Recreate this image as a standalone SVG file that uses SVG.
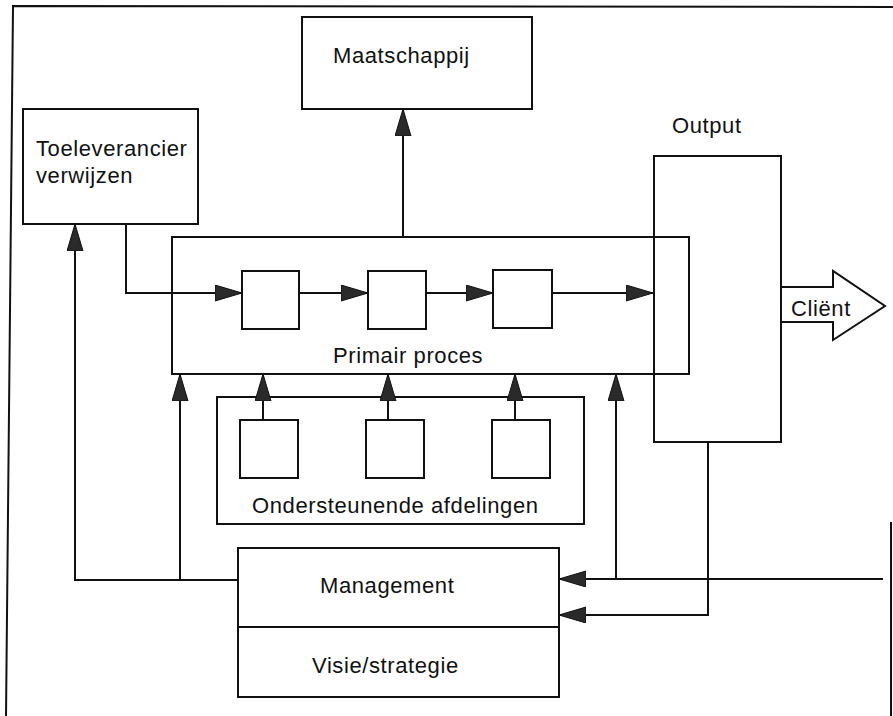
<svg xmlns="http://www.w3.org/2000/svg" width="893" height="716" viewBox="0 0 893 716">
<style>
.box{fill:none;stroke:#111;stroke-width:2}
.ln{fill:none;stroke:#111;stroke-width:2}
.t{font-family:"Liberation Sans",Arial,sans-serif;font-size:22px;letter-spacing:0.6px;fill:#111}
</style>
<defs>
<marker id="ah" markerUnits="userSpaceOnUse" markerWidth="28" markerHeight="18" refX="27" refY="8" orient="auto">
<path d="M0,0 L27,8 L0,16 Z" fill="#2a2a2a" stroke="#111" stroke-width="1"/>
</marker>
</defs>
<rect width="893" height="716" fill="#fff"/>
<g id="frame">
<path class="ln" d="M6,716 L13,6 L893,7"/>
<line class="ln" x1="891" y1="522" x2="891" y2="716"/>
</g>
<g id="maatschappij">
<rect class="box" x="302" y="17" width="230" height="92"/>
<text class="t" x="333" y="63">Maatschappij</text>
</g>
<g id="toeleverancier">
<rect class="box" x="23" y="109" width="175" height="115"/>
<text class="t" x="36" y="156">Toeleverancier</text>
<text class="t" x="36" y="183">verwijzen</text>
</g>
<g id="primair">
<rect class="box" x="172" y="237" width="517" height="137"/>
<text class="t" x="333" y="363">Primair proces</text>
</g>
<g id="p1"><rect class="box" x="242" y="271" width="57" height="58"/></g>
<g id="p2"><rect class="box" x="368" y="271" width="58" height="58"/></g>
<g id="p3"><rect class="box" x="493" y="270" width="59" height="58"/></g>
<g id="output">
<rect class="box" x="654" y="156" width="127" height="286"/>
<text class="t" x="672" y="133">Output</text>
</g>
<g id="client">
<path class="box" d="M781,287 L833,287 L833,271 L885,306 L833,340 L833,322 L781,322"/>
<text class="t" x="791" y="316">Cliënt</text>
</g>
<g id="ondersteunend">
<rect class="box" x="217" y="397" width="367" height="127"/>
<text class="t" x="252" y="513">Ondersteunende afdelingen</text>
</g>
<g id="o1"><rect class="box" x="240" y="420" width="58" height="58"/></g>
<g id="o2"><rect class="box" x="366" y="420" width="58" height="58"/></g>
<g id="o3"><rect class="box" x="492" y="420" width="58" height="58"/></g>
<g id="management">
<rect class="box" x="238" y="548" width="321" height="149"/>
<line class="ln" x1="238" y1="627" x2="559" y2="627"/>
<text class="t" x="320" y="593">Management</text>
<text class="t" x="312" y="673">Visie/strategie</text>
</g>
<g id="connectors">
<line class="ln" x1="403" y1="237" x2="403" y2="109" marker-end="url(#ah)"/>
<path class="ln" d="M126,224 L126,293 L242,293" marker-end="url(#ah)"/>
<line class="ln" x1="299" y1="293" x2="368" y2="293" marker-end="url(#ah)"/>
<line class="ln" x1="426" y1="293" x2="493" y2="293" marker-end="url(#ah)"/>
<line class="ln" x1="552" y1="293" x2="653" y2="293" marker-end="url(#ah)"/>
<line class="ln" x1="263" y1="420" x2="263" y2="374" marker-end="url(#ah)"/>
<line class="ln" x1="388" y1="420" x2="388" y2="374" marker-end="url(#ah)"/>
<line class="ln" x1="515" y1="420" x2="515" y2="374" marker-end="url(#ah)"/>
<path class="ln" d="M238,580 L75,580 L75,224" marker-end="url(#ah)"/>
<line class="ln" x1="180" y1="580" x2="180" y2="374" marker-end="url(#ah)"/>
<line class="ln" x1="883" y1="579" x2="559" y2="579" marker-end="url(#ah)"/>
<line class="ln" x1="616" y1="579" x2="616" y2="374" marker-end="url(#ah)"/>
<path class="ln" d="M708,442 L708,615 L559,615" marker-end="url(#ah)"/>
</g>
</svg>
